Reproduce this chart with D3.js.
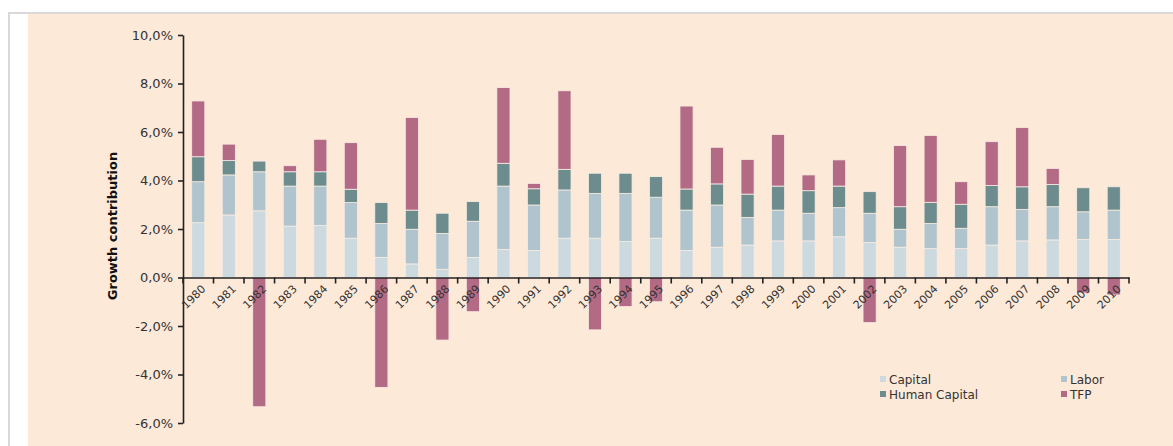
<!DOCTYPE html>
<html>
<head>
<meta charset="utf-8">
<script src="https://cdn.jsdelivr.net/npm/d3@7"></script>
<style>
  body { margin: 0; background: #fff; }
  svg { display: block; font-family: "DejaVu Sans", Verdana, sans-serif; }
</style>
</head>
<body>
<svg width="1173" height="446"></svg>
<script>
// growth contributions, percentage points
var years = d3.range(1980, 2011).map(String);
var capital = [2.26, 2.58, 2.75, 2.12, 2.15, 1.62, 0.83, 0.56, 0.34, 0.83, 1.16, 1.11, 1.62, 1.62, 1.48, 1.62,
               1.11, 1.25, 1.34, 1.51, 1.51, 1.68, 1.44, 1.25, 1.19, 1.19, 1.34, 1.51, 1.55, 1.57, 1.57];
var labor = [1.69, 1.65, 1.61, 1.65, 1.62, 1.47, 1.40, 1.43, 1.48, 1.49, 2.61, 1.88, 1.99, 1.85, 1.99, 1.69,
             1.67, 1.74, 1.14, 1.27, 1.14, 1.20, 1.21, 0.74, 1.04, 0.84, 1.58, 1.30, 1.37, 1.14, 1.21];
var humanCapital = [1.03, 0.59, 0.44, 0.59, 0.59, 0.55, 0.86, 0.79, 0.83, 0.81, 0.94, 0.67, 0.85, 0.83, 0.83, 0.85,
                    0.87, 0.87, 0.96, 0.99, 0.93, 0.89, 0.89, 0.93, 0.87, 0.99, 0.87, 0.93, 0.92, 0.99, 0.96];
var tfp = [2.30, 0.68, -5.33, 0.25, 1.34, 1.92, -4.53, 3.82, -2.58, -1.41, 3.12, 0.22, 3.24, -2.16, -1.20, -1.00,
           3.42, 1.51, 1.43, 2.13, 0.65, 1.08, -1.86, 2.52, 2.76, 0.93, 1.81, 2.44, 0.66, -0.64, -0.72];
var yTicks = [-6, -4, -2, 0, 2, 4, 6, 8, 10];

var series = [
  { key: "Capital", values: capital, color: "#ccd9df" },
  { key: "Labor", values: labor, color: "#afc4cc" },
  { key: "Human Capital", values: humanCapital, color: "#6d8c8d" },
  { key: "TFP", values: tfp, color: "#b36a85" }
];

var font = "'DejaVu Sans', Verdana, sans-serif";
var svg = d3.select("svg");

// frame + peach plot area
svg.append("rect").attr("x", 9).attr("y", 13).attr("width", 1170).attr("height", 440)
  .attr("fill", "#fff").attr("stroke", "#d9d9d9").attr("stroke-width", 2);
svg.append("rect").attr("x", 28).attr("y", 14).attr("width", 1145).attr("height", 432)
  .attr("fill", "#fde9d8");

var table = years.map(function (y, i) {
  var row = { year: y };
  series.forEach(function (s) { row[s.key] = s.values[i]; });
  return row;
});

var stacked = d3.stack()
  .keys(series.map(function (s) { return s.key; }))
  .offset(d3.stackOffsetDiverging)(table);

var x = d3.scaleBand().domain(years).range([183, 1129]).paddingInner(0.57).paddingOuter(0.285);
var y = d3.scaleLinear().domain([-6, 10]).range([423, 35]);
var color = d3.scaleOrdinal().domain(series.map(function (s) { return s.key; }))
  .range(series.map(function (s) { return s.color; }));

var g = svg.append("g");

g.selectAll("g.layer")
  .data(stacked)
  .enter().append("g")
    .attr("class", "layer")
    .attr("fill", function (d) { return color(d.key); })
  .selectAll("rect")
  .data(function (d) { return d; })
  .enter().append("rect")
    .attr("x", function (d) { return x(d.data.year); })
    .attr("width", x.bandwidth())
    .attr("y", function (d) { return y(Math.max(d[0], d[1])); })
    .attr("height", function (d) { return Math.abs(y(d[0]) - y(d[1])); })
    .attr("stroke", "#f8ece3")
    .attr("stroke-width", 0.8);

// y axis
var yAxis = svg.append("g")
  .attr("transform", "translate(183,0)")
  .call(d3.axisLeft(y).tickValues(yTicks).tickSize(5).tickSizeOuter(0)
    .tickFormat(function (d) { return d3.format(".1f")(d).replace("−", "-").replace(".", ",") + "%"; }))
  .attr("font-family", font)
  .attr("font-size", 13);
yAxis.select(".domain").attr("stroke", "#222").attr("stroke-width", 1.6);
yAxis.selectAll(".tick line").attr("stroke", "#222").attr("stroke-width", 1.6);
yAxis.selectAll("text").attr("fill", "#333").attr("x", -10);

// x axis at zero, ticks on category boundaries
var y0 = y(0);
var xAxis = svg.append("g")
  .attr("transform", "translate(0," + y0 + ")")
  .call(d3.axisBottom(x).tickSize(0).tickSizeOuter(0))
  .attr("font-family", font)
  .attr("font-size", 11);
xAxis.select(".domain").attr("stroke", "#222").attr("stroke-width", 1.6);
xAxis.selectAll(".tick text")
  .attr("fill", "#333")
  .attr("text-anchor", "middle")
  .attr("dy", 0)
  .attr("y", 0)
  .attr("transform", "translate(-2,22) rotate(-45)");

var bounds = years.map(function (d) { return x(d) + x.bandwidth() / 2 - x.step() / 2; }).concat([1129]);
svg.append("g").selectAll("line")
  .data(bounds)
  .enter().append("line")
    .attr("x1", function (d) { return d; })
    .attr("x2", function (d) { return d; })
    .attr("y1", y0)
    .attr("y2", y0 + 6)
    .attr("stroke", "#222")
    .attr("stroke-width", 1.6);

// axis title
svg.append("text")
  .attr("transform", "translate(117,226) rotate(-90)")
  .attr("text-anchor", "middle")
  .attr("font-size", 13)
  .attr("font-weight", "bold")
  .attr("fill", "#111")
  .text("Growth contribution");

// legend, two columns
var legend = svg.append("g").selectAll("g")
  .data(series)
  .enter().append("g")
    .attr("transform", function (d, i) {
      return "translate(" + (i % 2 ? 1061 : 880) + "," + (i < 2 ? 376 : 391) + ")";
    });
legend.append("rect").attr("width", 6).attr("height", 6)
  .attr("fill", function (d) { return d.color; });
legend.append("text").attr("x", 9).attr("y", 8)
  .attr("font-size", 12).attr("fill", "#333")
  .text(function (d) { return d.key; });
</script>
</body>
</html>
